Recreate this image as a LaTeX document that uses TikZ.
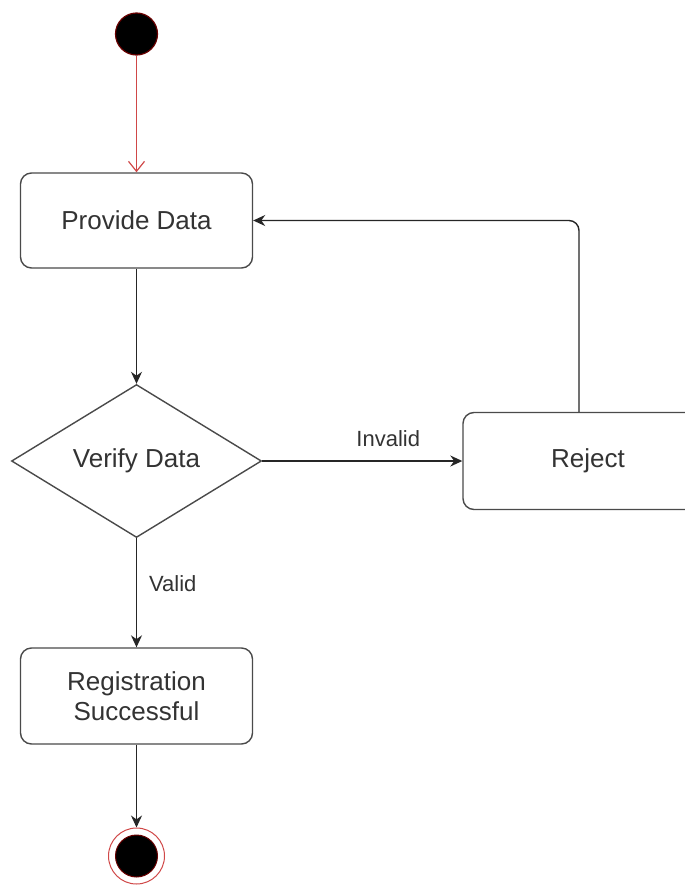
\documentclass[tikz,border=0pt]{standalone}
\usepackage{fontspec}
\setmainfont{Liberation Sans}
\usetikzlibrary{shapes.geometric,arrows.meta,calc}
\definecolor{linec}{HTML}{4A4A4A}
\definecolor{txtc}{HTML}{333333}
\definecolor{startred}{HTML}{D04848}
\definecolor{darkred}{HTML}{6A0000}
\tikzset{
  actbox/.style={draw=linec, line width=1.4pt, rounded corners=11pt, fill=white,
    minimum width=232pt, minimum height=95pt, inner sep=0pt, align=center,
    text=txtc, font=\fontsize{26}{30}\selectfont},
  decbox/.style={draw=linec, line width=1.4pt, diamond, aspect=1.63, fill=white,
    minimum width=250pt, minimum height=153pt, inner sep=0pt,
    text=txtc, font=\fontsize{26}{30}\selectfont},
  arr/.style={draw=black!85, line width=1.4pt, -{Stealth[length=12pt,width=11pt]}},
  lbl/.style={text=txtc, font=\fontsize{22}{26}\selectfont, inner sep=0pt}
}
\begin{document}
\begin{tikzpicture}[x=1pt,y=-1pt]
\clip (0,0) rectangle (685,886);
\fill[white] (0,0) rectangle (685,886);
\node[circle, fill=black, draw=darkred, line width=1.2pt, minimum size=42pt, inner sep=0pt] (start) at (136.5,34) {};
\node[actbox] (provide) at (136.5,220.5) {Provide Data};
\node[decbox] (verify) at (136.5,461) {Verify Data};
\node[actbox, minimum width=250pt, minimum height=97pt] (reject) at (588,461) {Reject};
\node[actbox, minimum height=96pt] (reg) at (136.5,696) {Registration\\Successful};
\node[circle, draw=startred, line width=1pt, minimum size=56pt, inner sep=0pt] (end) at (136.5,856) {};
\node[circle, fill=black, draw=darkred, line width=1pt, minimum size=42pt, inner sep=0pt] (endin) at (end.center) {};
\draw[draw=startred, line width=1.2pt, -{Straight Barb[length=10pt,width=16pt]}] (start) -- (provide);
\draw[arr] (provide) -- (verify);
\draw[arr] (verify.east) -- node[lbl, above=14pt, pos=0.63] {Invalid} (reject.west);
\draw[arr, rounded corners=10pt] ([xshift=-9pt]reject.north) |- (provide.east);
\draw[arr] (verify.south) -- node[lbl, right=12pt, pos=0.42] {Valid} (reg.north);
\draw[arr] (reg.south) -- (end.north);
\end{tikzpicture}
\end{document}
